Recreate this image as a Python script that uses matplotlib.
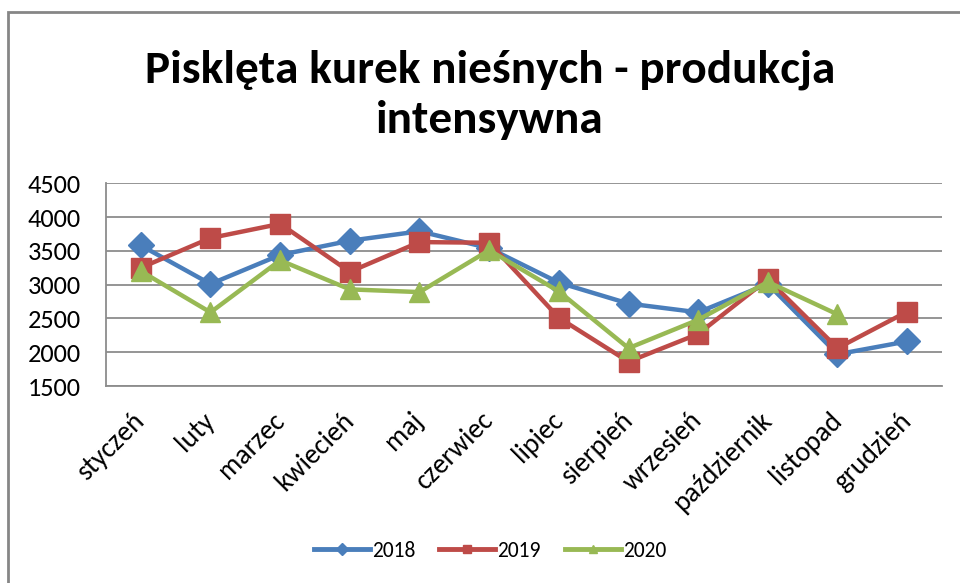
import matplotlib
matplotlib.use("Agg")
import matplotlib.pyplot as plt
from matplotlib.lines import Line2D
from matplotlib.patches import Rectangle

months = ["styczeń", "luty", "marzec", "kwiecień", "maj", "czerwiec", "lipiec",
          "sierpień", "wrzesień", "październik", "listopad", "grudzień"]
s2018 = [3580, 3010, 3440, 3650, 3790, 3540, 3030, 2720, 2590, 3010, 1970, 2160]
s2019 = [3250, 3690, 3900, 3190, 3630, 3620, 2510, 1860, 2270, 3080, 2060, 2600]
s2020 = [3200, 2590, 3360, 2930, 2890, 3510, 2900, 2060, 2480, 3040, 2560]
years = ["2018", "2019", "2020"]
yticks = [1500, 2000, 2500, 3000, 3500, 4000, 4500]

FONT = ["Carlito", "Liberation Sans", "DejaVu Sans"]
plt.rcParams['font.family'] = FONT

W, H = 960, 583
fig = plt.figure(figsize=(W / 100, H / 100), dpi=100)
fig.patch.set_facecolor("white")

# outer border
fig.patches.append(Rectangle((8 / W, -0.05), 1.2, 1 - 12 / H + 0.05, transform=fig.transFigure,
                             fill=False, edgecolor="#868686", linewidth=2.0))

ax = fig.add_axes([106 / W, 1 - 386 / H, (942 - 106) / W, (386 - 183.3) / H])
x = list(range(len(months)))
colors = ["#4A7EBB", "#BE4B48", "#98B954"]
markers = ["D", "s", "^"]
msizes = [13, 15, 15]
series = [s2018, s2019, s2020]
for s, c, m, ms in zip(series, colors, markers, msizes):
    ax.plot(x[:len(s)], s, color=c, lw=3.2, marker=m, markersize=ms,
            markeredgecolor=c, markerfacecolor=c, zorder=3)

ax.set_xlim(-0.5, len(months) - 0.5)
ax.set_ylim(1500, 4500)
ax.set_yticks(yticks)
ax.set_yticklabels([str(v) for v in yticks], fontsize=19)
ax.yaxis.grid(True, color="#8C8C8C", lw=1.3)
ax.set_axisbelow(True)
ax.tick_params(axis="both", length=0)
ax.tick_params(axis="y", pad=18)
ax.set_xticks(x)
ax.set_xticklabels(months, rotation=45, ha="right", va="center",
                   rotation_mode="anchor", fontsize=20)
ax.tick_params(axis="x", pad=22)
for sp in ["top", "right"]:
    ax.spines[sp].set_visible(False)
for sp in ["left", "bottom"]:
    ax.spines[sp].set_color("#8C8C8C")
    ax.spines[sp].set_linewidth(1.3)

# title
fig.text(490 / W, 1 - 82 / H, "Pisklęta kurek nieśnych - produkcja", ha="center",
         va="baseline", fontsize=34, fontweight="bold")
fig.text(490 / W, 1 - 133 / H, "intensywna", ha="center",
         va="baseline", fontsize=34, fontweight="bold")

handles = [Line2D([], [], color=c, lw=3.5, marker=m, markersize=6,
                  markerfacecolor=c, markeredgecolor=c)
           for c, m in zip(colors, markers)]
fig.legend(handles, years, loc="center", bbox_to_anchor=(490 / W, 1 - 551 / H),
           ncol=3, frameon=False, fontsize=15.5, handlelength=2.6,
           handletextpad=0.1, columnspacing=1.1)

fig.savefig("out.png", dpi=100)
